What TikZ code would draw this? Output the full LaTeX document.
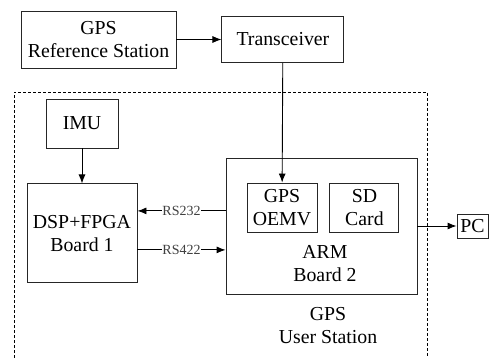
\documentclass[tikz,border=0pt]{standalone}
\usepackage{fontspec}
\setmainfont{Liberation Serif}
\newfontfamily\tnr{Liberation Serif}
\usetikzlibrary{calc, positioning, arrows.meta}

\begin{document}
\begin{tikzpicture}[x=1pt, y=1pt,
        font=\tnr\fontsize{19.8}{23}\selectfont,
        blk/.style={draw=black!85, line width=0.9pt, rectangle, align=center, inner sep=1pt},
        arr/.style={-{Latex[length=9pt,width=7pt]}, line width=0.9pt},
        lab/.style={fill=white, inner sep=0.5pt, text=black!75, font=\tnr\fontsize{14}{16}\selectfont}]
    \useasboundingbox (0,0) rectangle (489,-358);

    \node[blk, minimum width=155pt, minimum height=57pt] (1) at (98.5,-39.5) {GPS\\Reference Station};
    \node[blk, minimum width=122pt, minimum height=46pt] (2) [right=45pt of 1] {Transceiver};

    \node[blk, minimum width=72pt, minimum height=49pt] (3) at (82,-123.5) {IMU};
    \node[blk, minimum width=110pt, minimum height=99pt] (4) [below=35pt of 3] {DSP+FPGA\\Board 1};

    \node[blk, minimum width=191pt, minimum height=136pt] (5) at (321.5,-226) {};
    \node[blk, minimum width=70pt, minimum height=49pt] (51) at (282,-207.5) {GPS\\OEMV};
    \node[blk, minimum width=69pt, minimum height=49pt] (52) [right=12pt of 51] {SD\\Card};
    \node[align=center, inner sep=0pt] (53) at (325,-264) {ARM\\Board 2};

    \node[align=center, inner sep=0pt] (7) at (328,-326) {GPS\\User Station};
    \node[blk, minimum width=31pt, minimum height=24pt] (6) at (472.5,-226) {PC};

    % user station frame
    \draw[line width=0.7pt, dash pattern=on 3pt off 2pt] (14,-358) -- (14,-92) -- (427,-92) -- (427,-358);

    \draw[arr] (1) -- (2);
    \draw[arr] (2) -- (51);
    \draw[arr] (3) -- (4);
    \draw[arr] ([yshift=22.5pt]4.east -| 5.west) -- node[lab] {RS232} ([yshift=22.5pt]4.east);
    \draw[arr] ([yshift=-16.5pt]4.east) -- node[lab] {RS422} ([yshift=-16.5pt]4.east -| 5.west);
    \draw[arr] (5) -- (6);
\end{tikzpicture}
\end{document}
